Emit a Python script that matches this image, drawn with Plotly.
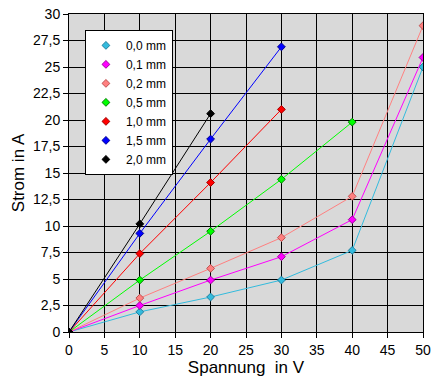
import plotly.graph_objects as go

volts = [0, 10, 20, 30, 40, 50]
names = ["0,0 mm", "0,1 mm", "0,2 mm", "0,5 mm", "1,0 mm", "1,5 mm", "2,0 mm"]
s00 = [0, 1.9, 3.3, 4.9, 7.7, 25.0]
s01 = [0, 2.5, 4.9, 7.1, 10.6, 25.9]
s02 = [0, 3.2, 6.0, 8.9, 12.8, 28.9]
s05 = [0, 4.9, 9.5, 14.4, 19.8]
s10 = [0, 7.4, 14.1, 21.0]
s15 = [0, 9.3, 18.2, 26.9]
s20 = [0, 10.2, 20.6]
series = [s00, s01, s02, s05, s10, s15, s20]
colors = ["#33bbdd", "#ff00ff", "#ff8080", "#00ff00", "#ff0000", "#0000ff", "#000000"]
edges = ["#2080a0", "#a000a0", "#c05050", "#008000", "#a00000", "#000090", "#000000"]

x_ticks = list(range(0, 55, 5))
y_ticks = [i * 2.5 for i in range(13)]

fig = go.Figure()
for name, ys, c, e in zip(names, series, colors, edges):
    fig.add_trace(go.Scatter(
        x=volts[:len(ys)], y=ys, mode="lines+markers", showlegend=False,
        line=dict(color=c, width=1),
        marker=dict(symbol="diamond", size=6, color=c, line=dict(color=e, width=1)),
    ))
for name, c, e in zip(names, colors, edges):
    fig.add_trace(go.Scatter(
        x=[None], y=[None], mode="markers", name=name,
        marker=dict(symbol="diamond", size=6, color=c, line=dict(color=e, width=1)),
    ))

font_fam = "Liberation Sans, Arial, sans-serif"
fig.update_layout(
    width=444, height=386,
    margin=dict(l=69, r=21, t=14, b=54),
    paper_bgcolor="white", plot_bgcolor="#d9d9d9",
    separators=",.",
    font=dict(family=font_fam, color="black", size=14),
    legend=dict(
        x=0.045, y=0.95, xanchor="left", yanchor="top",
        bgcolor="white", bordercolor="black", borderwidth=1,
        font=dict(size=12), itemwidth=30,
    ),
    xaxis=dict(
        range=[0, 50], tickvals=x_ticks, showgrid=True, gridcolor="black", gridwidth=1,
        showline=True, linecolor="black", linewidth=1, mirror=True,
        ticks="outside", ticklen=5, tickcolor="black", zeroline=False,
        tickfont=dict(size=14), automargin=False,
        title=dict(text="Spannung  in V", font=dict(size=17), standoff=4),
    ),
    yaxis=dict(
        range=[0, 30], tickvals=y_ticks, showgrid=True, gridcolor="black", gridwidth=1,
        showline=True, linecolor="black", linewidth=1, mirror=True,
        ticks="outside", ticklen=5, tickcolor="black", zeroline=False,
        tickfont=dict(size=14), automargin=False,
        title=dict(text="Strom in A", font=dict(size=17), standoff=4),
    ),
)
# remove the default 8px body margin so the figure fills the window exactly
fig.write_html("out.html", config={"displayModeBar": False},
               post_script="document.body.style.margin='0';")
